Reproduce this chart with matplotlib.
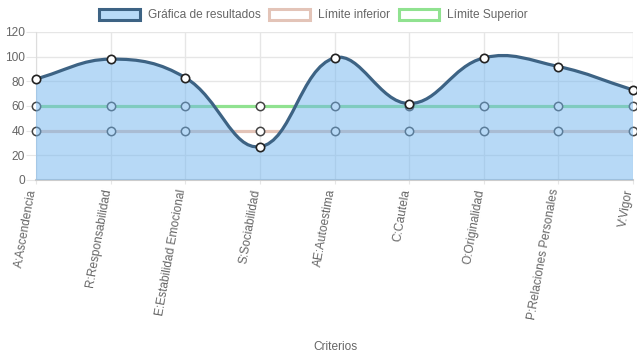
import numpy as np
import matplotlib
matplotlib.use('Agg')
import matplotlib.pyplot as plt
from matplotlib.path import Path
import matplotlib.patches as pat

####################################################################################
# Data

criterios = ["A:Ascendencia", "R:Responsabilidad", "E:Estabilidad Emocional",
             "S:Sociabilidad", "AE:Autoestima", "C:Cautela", "O:Originalidad",
             "P:Relaciones Personales", "V:Vigor"]
resultados = [82, 98, 83, 27, 99, 62, 99, 92, 73]
limite_inferior = [40, 40, 40, 40, 40, 40, 40, 40, 40]
limite_superior = [60, 60, 60, 60, 60, 60, 60, 60, 60]
y_ticks = [0, 20, 40, 60, 80, 100, 120]

line_col = '#3d6384'
fill_col = '#71b5ef'
inf_col = '#e3c4b8'
sup_col = '#90e290'
text_col = '#666666'
grid_col = '#e6e6e6'

plt.rcParams.update({'font.family': ['Liberation Sans', 'DejaVu Sans'], 'font.size': 8.6})

####################################################################################
# Chart.js style spline (tension 0.4), distances in pixel units

def spline_path(xs, ys, sx, sy, t=0.4):
    px = np.array(xs, float) * sx
    py = np.array(ys, float) * sy
    n = len(px)
    verts = [(px[0], py[0])]
    codes = [Path.MOVETO]
    cps = []
    for i in range(n):
        p0 = i - 1 if i > 0 else i
        p2 = i + 1 if i < n - 1 else i
        d01 = np.hypot(px[i] - px[p0], py[i] - py[p0])
        d12 = np.hypot(px[p2] - px[i], py[p2] - py[i])
        tot = d01 + d12
        s01 = d01 / tot if tot else 0
        s12 = d12 / tot if tot else 0
        fa, fb = t * s01, t * s12
        prev_cp = (px[i] - fa * (px[p2] - px[p0]), py[i] - fa * (py[p2] - py[p0]))
        next_cp = (px[i] + fb * (px[p2] - px[p0]), py[i] + fb * (py[p2] - py[p0]))
        cps.append((prev_cp, next_cp))
    for i in range(1, n):
        verts += [cps[i - 1][1], cps[i][0], (px[i], py[i])]
        codes += [Path.CURVE4] * 3
    verts = [(v[0] / sx, min(v[1], 120 * sy) / sy) for v in verts]
    return verts, codes

####################################################################################
# Plot

fig = plt.figure(figsize=(6.37, 3.59), dpi=100)
ax = fig.add_axes([36 / 637, 1 - 180 / 359, 597 / 637, 148 / 359])

x = np.arange(len(criterios))
ax.set_xlim(0, len(criterios) - 1)
ax.set_ylim(0, 120)

sx = 597 / (len(criterios) - 1)
sy = 148 / 120

# limit lines drawn underneath
for vals, col in [(limite_superior, sup_col), (limite_inferior, inf_col)]:
    ax.plot(x, vals, color=col, lw=2.3, zorder=2, clip_on=False)
    ax.plot(x, vals, ls='none', marker='o', ms=6, mfc='white', mec='#444444', mew=1.1,
            zorder=3, clip_on=False)

verts, codes = spline_path(x, resultados, sx, sy)
fill_verts = verts + [(x[-1], 0), (x[0], 0), verts[0]]
fill_codes = codes + [Path.LINETO, Path.LINETO, Path.CLOSEPOLY]
ax.add_patch(pat.PathPatch(Path(fill_verts, fill_codes), facecolor=fill_col, alpha=0.5,
                           edgecolor='none', zorder=4))
ax.add_patch(pat.PathPatch(Path(verts, codes), facecolor='none', edgecolor=line_col,
                           lw=2.3, zorder=5, clip_on=False, capstyle='round'))
ax.plot(x, resultados, ls='none', marker='o', ms=6, mfc='white', mec='#222222', mew=1.2,
        zorder=6, clip_on=False)

# axes styling
ax.set_yticks(y_ticks)
ax.set_xticks(x)
ax.set_xticklabels(criterios, rotation=80, ha='right', va='baseline', rotation_mode='anchor')
ax.grid(color=grid_col, lw=1)
ax.set_axisbelow(True)
for s in ['top', 'right']:
    ax.spines[s].set_visible(False)
ax.spines['left'].set_color('#dddddd')
ax.spines['bottom'].set_color('#cccccc')
ax.spines['bottom'].set_linewidth(1.5)
ax.tick_params(axis='y', length=7, color=grid_col, labelcolor=text_col, labelsize=8.6, pad=1)
ax.tick_params(axis='x', length=3, color=grid_col, labelcolor=text_col, labelsize=8.6, pad=4)
ax.set_xlabel('Criterios', color=text_col, fontsize=8.6)
ax.xaxis.set_label_coords(0.502, -(347 - 180) / 148)
ax.xaxis.label.set_va('center')

# legend
handles = [pat.Patch(facecolor='#b8dbf8', edgecolor=line_col, lw=2.2),
           pat.Patch(facecolor='white', edgecolor=inf_col, lw=2.2),
           pat.Patch(facecolor='white', edgecolor=sup_col, lw=2.2)]
fig.legend(handles, ['Gráfica de resultados', 'Límite inferior', 'Límite Superior'],
           loc='center', bbox_to_anchor=(0.5 - 5 / 637, 1 - 15 / 359), ncol=3, frameon=False,
           handlelength=3.4, handleheight=1.1, handletextpad=0.65, columnspacing=0.75,
           labelcolor=text_col, fontsize=8.6)

plt.savefig('out.png', dpi=100)
